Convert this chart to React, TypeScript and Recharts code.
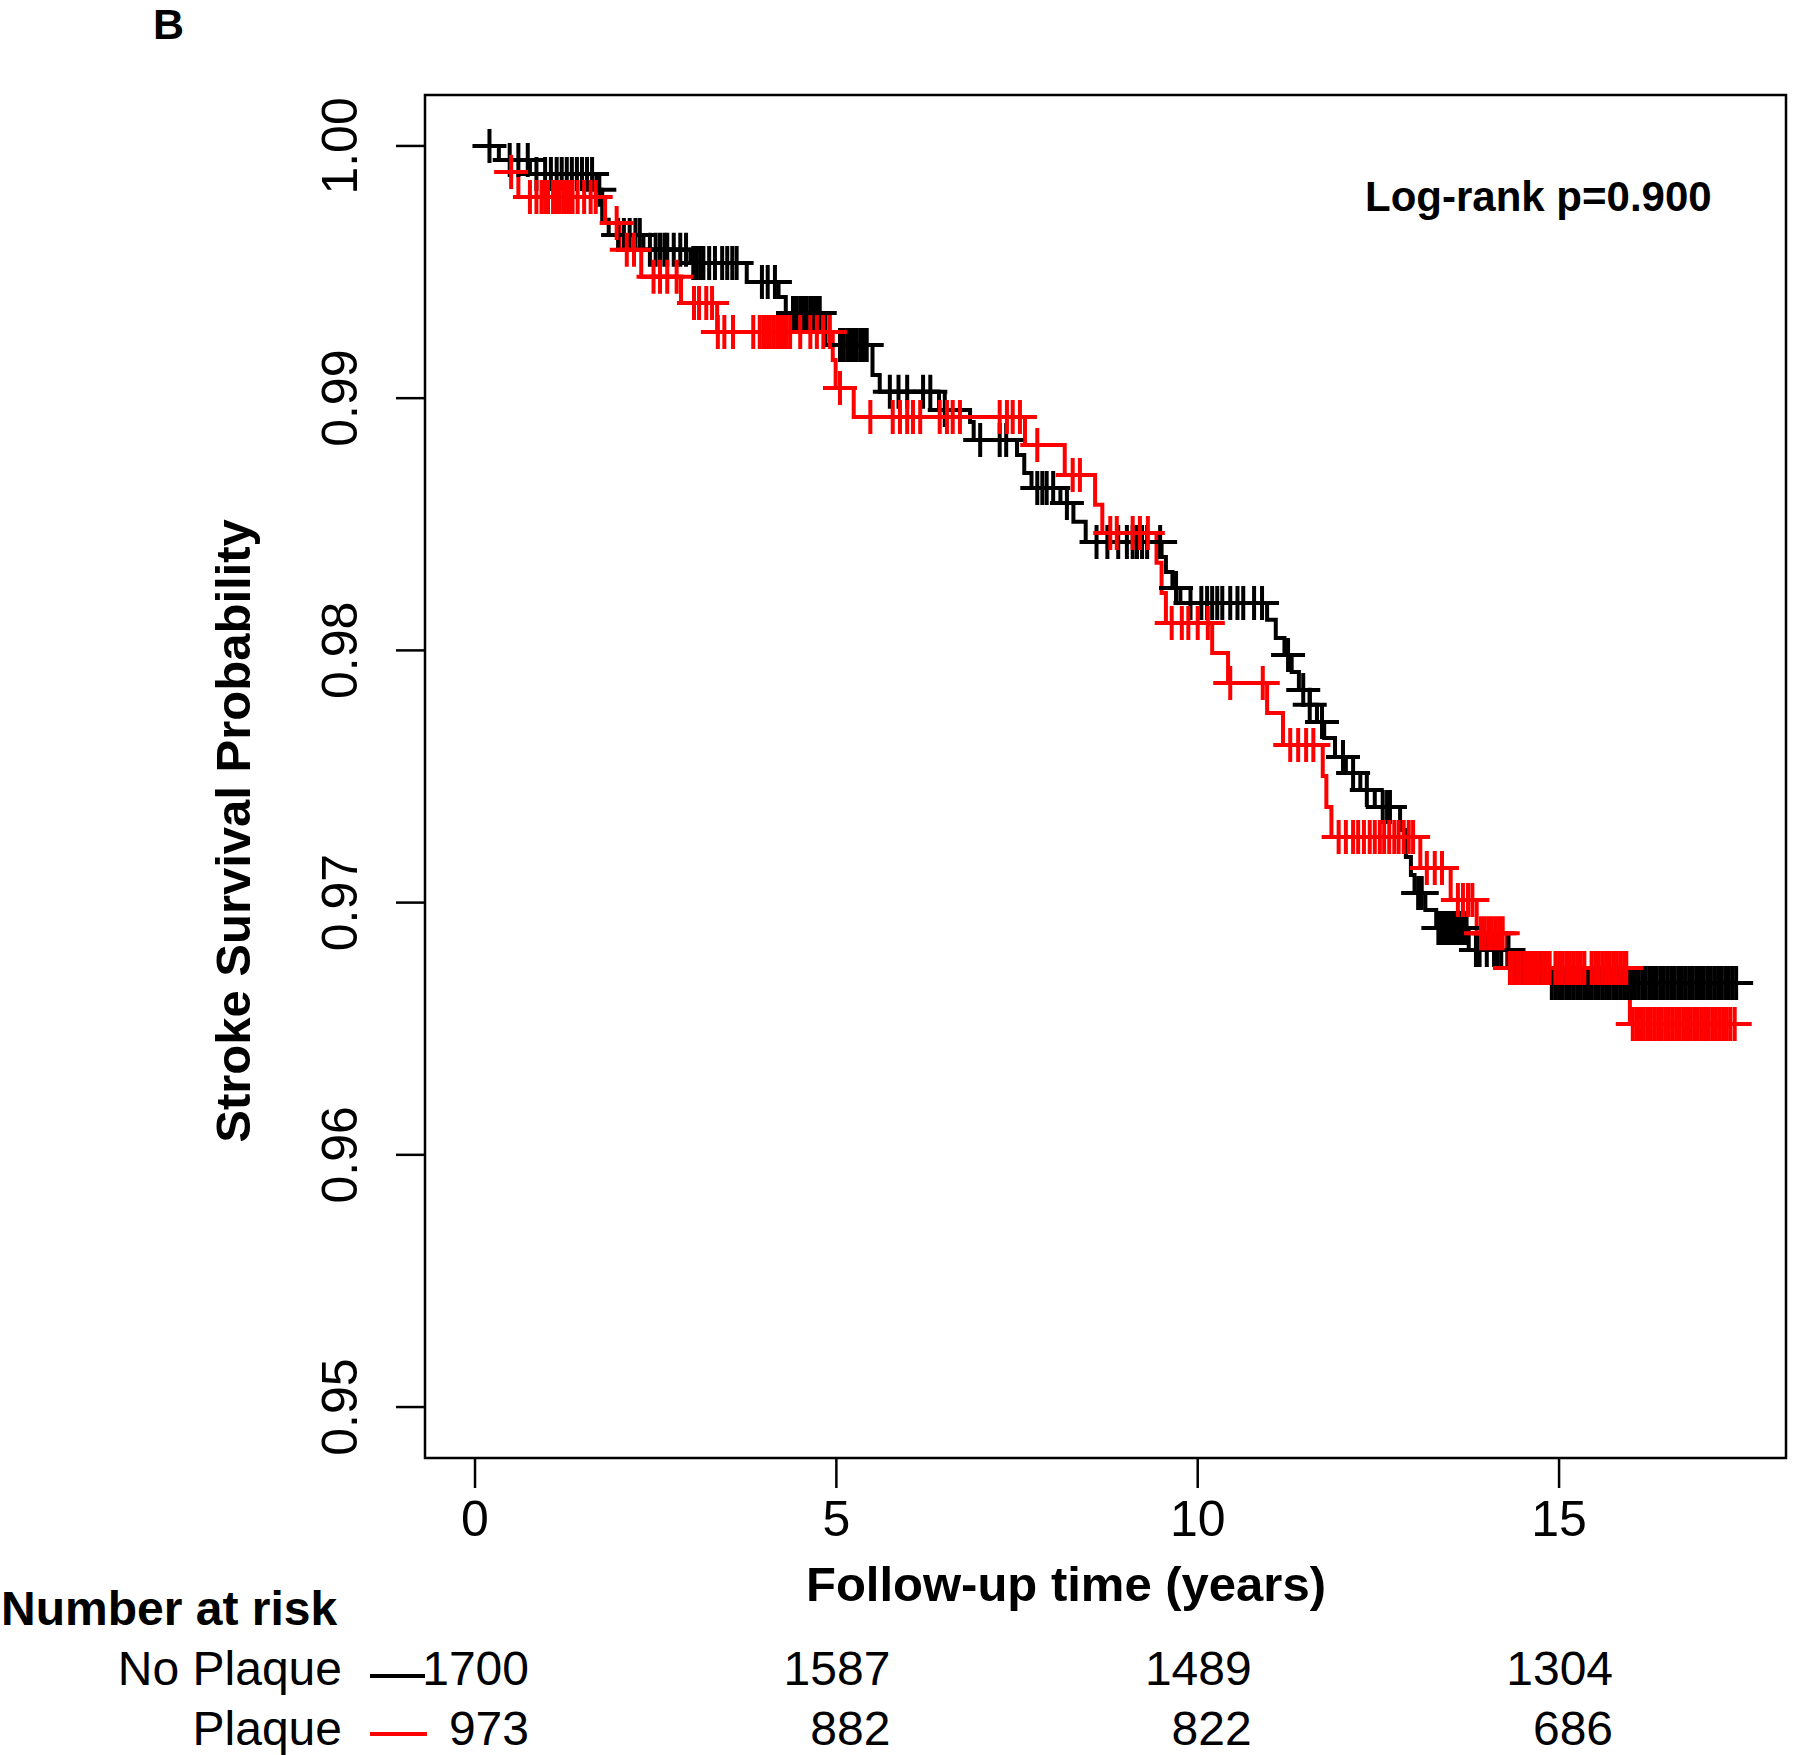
import React from "react";
import {
  ComposedChart,
  Line,
  Scatter,
  XAxis,
  YAxis,
  ReferenceArea,
} from "recharts";

// ================================================================
// Kaplan-Meier stroke survival: No Plaque vs Plaque
// ================================================================

const FONT = "'Liberation Sans', Arial, Helvetica, sans-serif";

// step points (time in years, survival after the drop)
const noPlaqueTime = [
  0, 0.33, 0.76, 1.68, 1.76, 1.85, 2.33, 2.98, 3.76, 4.2, 4.3, 4.85, 5.5, 5.6,
  6.42, 6.85, 6.9, 7.5, 7.6, 7.7, 8.1, 8.28, 8.45, 9.5, 9.56, 9.65, 9.76,
  10.96, 11.08, 11.2, 11.3, 11.4, 11.55, 11.65, 11.75, 11.9, 12.05, 12.25,
  12.45, 12.8, 12.88, 12.95, 13.0, 13.15, 13.3, 13.75, 14.35, 14.85, 17.47,
];
const noPlaqueSurv = [
  1.0, 0.99944, 0.99889, 0.99826, 0.99707, 0.99647, 0.99588, 0.99536, 0.99461,
  0.99401, 0.99338, 0.99211, 0.99092, 0.99025, 0.98953, 0.98906, 0.98834,
  0.98775, 0.98703, 0.98644, 0.98584, 0.9851, 0.9843, 0.9837, 0.98311,
  0.98247, 0.98188, 0.98121, 0.98049, 0.97982, 0.97914, 0.97843, 0.97784,
  0.97716, 0.97653, 0.97577, 0.97514, 0.97446, 0.97379, 0.97288, 0.97181,
  0.97109, 0.97038, 0.96971, 0.96899, 0.96812, 0.96741, 0.96681, 0.96681,
];

const plaqueTime = [
  0.37, 0.6, 1.8, 2.0, 2.3, 2.85, 3.35, 4.95, 4.99, 5.24, 7.61, 8.16, 8.58,
  8.68, 9.43, 9.5, 9.56, 10.2, 10.42, 10.96, 11.18, 11.73, 11.78, 11.85, 13.08,
  13.5, 13.86, 14.28, 15.98, 17.43,
];
const plaqueSurv = [
  0.99897, 0.99798, 0.99695, 0.99588, 0.99481, 0.99377, 0.99262, 0.99151,
  0.9904, 0.98925, 0.98814, 0.98695, 0.98577, 0.98465, 0.98347, 0.98228,
  0.98109, 0.9799, 0.97871, 0.97752, 0.97625, 0.97502, 0.97379, 0.9726,
  0.97137, 0.9701, 0.96879, 0.96741, 0.96519, 0.96519,
];

// censoring times (+ marks)
const noPlaqueCensor = [
  0.2, 0.48, 0.6, 0.73, 0.85, 0.97, 1.05, 1.13, 1.2, 1.27, 1.34, 1.41, 1.48,
  1.55, 1.62, 1.72, 1.98, 2.06, 2.14, 2.22, 2.28, 2.42, 2.5, 2.56, 2.62, 2.66,
  2.75, 2.84, 2.92, 3.02, 3.07, 3.12, 3.16, 3.24, 3.32, 3.42, 3.49, 3.56, 3.62,
  3.97, 4.05, 4.15, 4.4, 4.45, 4.5, 4.55, 4.59, 4.64, 4.68, 4.72, 4.77, 5.05,
  5.1, 5.15, 5.19, 5.23, 5.28, 5.33, 5.38, 5.42, 5.74, 5.86, 5.98, 6.2, 6.3,
  6.5, 6.99, 7.26, 7.35, 7.78, 7.85, 7.91, 8.0, 8.19, 8.6, 8.75, 8.9, 9.02,
  9.1, 9.16, 9.23, 9.3, 9.48, 9.7, 9.9, 10.05, 10.13, 10.2, 10.27, 10.34,
  10.45, 10.55, 10.63, 10.78, 10.89, 11.25, 11.46, 11.55, 11.72, 12.01, 12.15,
  12.34, 12.56, 12.62, 12.66, 13.05, 13.1, 13.33, 13.37, 13.42, 13.46, 13.5,
  13.54, 13.57, 13.61, 13.64, 13.68, 13.72, 13.85, 13.9, 14.0, 14.1, 14.15,
  14.2, 14.3, 14.4, 14.45, 14.5, 14.55, 14.6, 14.65, 14.7, 14.75, 14.8, 14.9,
  14.95, 15.0, 15.05, 15.1, 15.15, 15.2, 15.25, 15.3, 15.35, 15.4, 15.45,
  15.5, 15.55, 15.6, 15.65, 15.7, 15.75, 15.8, 15.85, 15.9, 15.95, 16.0,
  16.05, 16.1, 16.15, 16.2, 16.25, 16.3, 16.35, 16.4, 16.45, 16.5, 16.55,
  16.6, 16.65, 16.7, 16.75, 16.8, 16.85, 16.9, 16.95, 17.0, 17.05, 17.1,
  17.15, 17.2, 17.25, 17.3, 17.35, 17.4, 17.45,
];
const plaqueCensor = [
  0.5, 0.76, 0.85, 0.92, 0.97, 1.01, 1.08, 1.13, 1.17, 1.22, 1.26, 1.31, 1.35,
  1.42, 1.51, 1.6, 1.67, 1.96, 2.1, 2.2, 2.47, 2.56, 2.66, 2.79, 3.03, 3.1,
  3.2, 3.28, 3.36, 3.45, 3.57, 3.85, 3.94, 3.99, 4.04, 4.08, 4.13, 4.18, 4.22,
  4.27, 4.31, 4.36, 4.5, 4.64, 4.73, 4.82, 4.91, 5.05, 5.47, 5.78, 5.88, 5.98,
  6.06, 6.16, 6.43, 6.53, 6.61, 6.71, 7.26, 7.36, 7.44, 7.54, 7.78, 8.27,
  8.37, 8.79, 8.88, 9.1, 9.2, 9.31, 9.64, 9.78, 9.87, 10.0, 10.14, 10.45,
  10.9, 11.28, 11.39, 11.5, 11.6, 11.95, 12.05, 12.15, 12.22, 12.3, 12.38,
  12.45, 12.52, 12.58, 12.65, 12.72, 12.78, 12.85, 12.92, 12.98, 13.17, 13.28,
  13.38, 13.6, 13.67, 13.74, 13.8, 13.92, 13.97, 14.02, 14.07, 14.12, 14.17,
  14.22, 14.32, 14.37, 14.42, 14.47, 14.52, 14.57, 14.62, 14.67, 14.72, 14.77,
  14.82, 14.87, 14.95, 15.0, 15.05, 15.1, 15.15, 15.2, 15.25, 15.3, 15.35,
  15.45, 15.5, 15.55, 15.6, 15.65, 15.7, 15.75, 15.8, 15.85, 15.9, 15.93,
  16.02, 16.07, 16.12, 16.17, 16.22, 16.27, 16.32, 16.37, 16.42, 16.47, 16.52,
  16.57, 16.62, 16.67, 16.72, 16.77, 16.82, 16.87, 16.92, 16.97, 17.02, 17.07,
  17.12, 17.17, 17.22, 17.27, 17.32, 17.37, 17.43,
];

// number at risk table
const riskTimes = [0, 5, 10, 15];
const noPlaqueRisk = [1700, 1587, 1489, 1304];
const plaqueRisk = [973, 882, 822, 686];

const xTicks = [0, 5, 10, 15];
const yTicks = [0.95, 0.96, 0.97, 0.98, 0.99, 1.0];

// R-style 4% padding around the data range
const X_MIN = -0.692;
const X_MAX = 18.14;
const Y_MIN = 0.94798;
const Y_MAX = 1.00202;

const toSteps = (times: number[], surv: number[]) =>
  times.map((t, i) => ({ t, s: surv[i] }));

const survAt = (times: number[], surv: number[], t: number) => {
  let v = surv[0];
  for (let i = 0; i < times.length; i++) if (times[i] <= t) v = surv[i];
  return v;
};

const toCensor = (censor: number[], times: number[], surv: number[]) =>
  censor.map((t) => ({ t, s: survAt(times, surv, t) }));

const noPlaqueSteps = toSteps(noPlaqueTime, noPlaqueSurv);
const plaqueSteps = toSteps(plaqueTime, plaqueSurv);
const noPlaqueMarks = toCensor(noPlaqueCensor, noPlaqueTime, noPlaqueSurv);
const plaqueMarks = toCensor(plaqueCensor, plaqueTime, plaqueSurv);

const plusShape = (color: string) => (props: any) => {
  const { cx, cy } = props;
  if (cx == null || cy == null) return <g />;
  return (
    <path
      d={`M${cx - 17},${cy}H${cx + 17}M${cx},${cy - 17}V${cy + 17}`}
      stroke={color}
      strokeWidth={4}
      fill="none"
    />
  );
};

const XTick = (props: any) => {
  const { x, payload } = props;
  const i = riskTimes.indexOf(payload.value);
  return (
    <g fontFamily={FONT} fill="#000">
      <text x={x} y={1536} textAnchor="middle" fontSize={50}>
        {payload.value}
      </text>
      {i >= 0 && (
        <text x={x + 54} y={1685} textAnchor="end" fontSize={48}>
          {noPlaqueRisk[i]}
        </text>
      )}
      {i >= 0 && (
        <text x={x + 54} y={1745} textAnchor="end" fontSize={48}>
          {plaqueRisk[i]}
        </text>
      )}
    </g>
  );
};

const YTick = (props: any) => {
  const { y, payload } = props;
  return (
    <text
      x={357}
      y={y}
      transform={`rotate(-90, 357, ${y})`}
      textAnchor="middle"
      fontSize={50}
      fontFamily={FONT}
      fill="#000"
    >
      {Number(payload.value).toFixed(2)}
    </text>
  );
};

export default function App() {
  return (
    <div style={{ position: "absolute", left: 0, top: 0, width: 1800, height: 1755, background: "#fff" }}>
      <ComposedChart
        width={1800}
        height={1755}
        margin={{ top: 95, right: 14, bottom: 197, left: 295 }}
      >
        <XAxis
          type="number"
          dataKey="t"
          domain={[X_MIN, X_MAX]}
          allowDataOverflow
          ticks={xTicks}
          interval={0}
          height={100}
          tickSize={30}
          axisLine={false}
          tickLine={{ stroke: "#000", strokeWidth: 2.5 }}
          tick={(p: any) => <XTick {...p} />}
        />
        <YAxis
          type="number"
          domain={[Y_MIN, Y_MAX]}
          allowDataOverflow
          ticks={yTicks}
          interval={0}
          width={130}
          tickSize={29}
          axisLine={false}
          tickLine={{ stroke: "#000", strokeWidth: 2.5 }}
          tick={(p: any) => <YTick {...p} />}
        />

        {/* No Plaque */}
        <Line
          data={noPlaqueSteps}
          dataKey="s"
          type="stepAfter"
          stroke="#000"
          strokeWidth={4}
          dot={false}
          activeDot={false}
          isAnimationActive={false}
        />
        <Scatter
          data={noPlaqueMarks}
          dataKey="s"
          shape={plusShape("#000")}
          isAnimationActive={false}
        />

        {/* Plaque */}
        <Line
          data={plaqueSteps}
          dataKey="s"
          type="stepAfter"
          stroke="#ff0000"
          strokeWidth={4}
          dot={false}
          activeDot={false}
          isAnimationActive={false}
        />
        <Scatter
          data={plaqueMarks}
          dataKey="s"
          shape={plusShape("#ff0000")}
          isAnimationActive={false}
        />

        {/* plot frame */}
        <ReferenceArea
          x1={X_MIN}
          x2={X_MAX}
          y1={Y_MIN}
          y2={Y_MAX}
          fill="none"
          fillOpacity={0}
          stroke="#000"
          strokeWidth={2.5}
          ifOverflow="visible"
        />
      </ComposedChart>

      <svg
        width={1800}
        height={1755}
        style={{ position: "absolute", left: 0, top: 0, pointerEvents: "none" }}
        fontFamily={FONT}
      >
        <text x={153} y={39} fontSize={43} fontWeight="bold">B</text>
        <text x={1365} y={211} fontSize={42} fontWeight="bold">Log-rank p=0.900</text>
        <text
          x={250}
          y={831}
          transform="rotate(-90, 250, 831)"
          textAnchor="middle"
          fontSize={49}
          fontWeight="bold"
        >
          Stroke Survival Probability
        </text>
        <text x={1066} y={1601} textAnchor="middle" fontSize={49} fontWeight="bold">
          Follow-up time (years)
        </text>
        <text x={1} y={1625} fontSize={48} fontWeight="bold">Number at risk</text>
        <text x={342} y={1685} textAnchor="end" fontSize={48}>No Plaque</text>
        <text x={342} y={1745} textAnchor="end" fontSize={48}>Plaque</text>
        <line x1={370} x2={425} y1={1676} y2={1676} stroke="#000" strokeWidth={4} />
        <line x1={370} x2={427} y1={1734} y2={1734} stroke="#ff0000" strokeWidth={4} />
      </svg>
    </div>
  );
}
